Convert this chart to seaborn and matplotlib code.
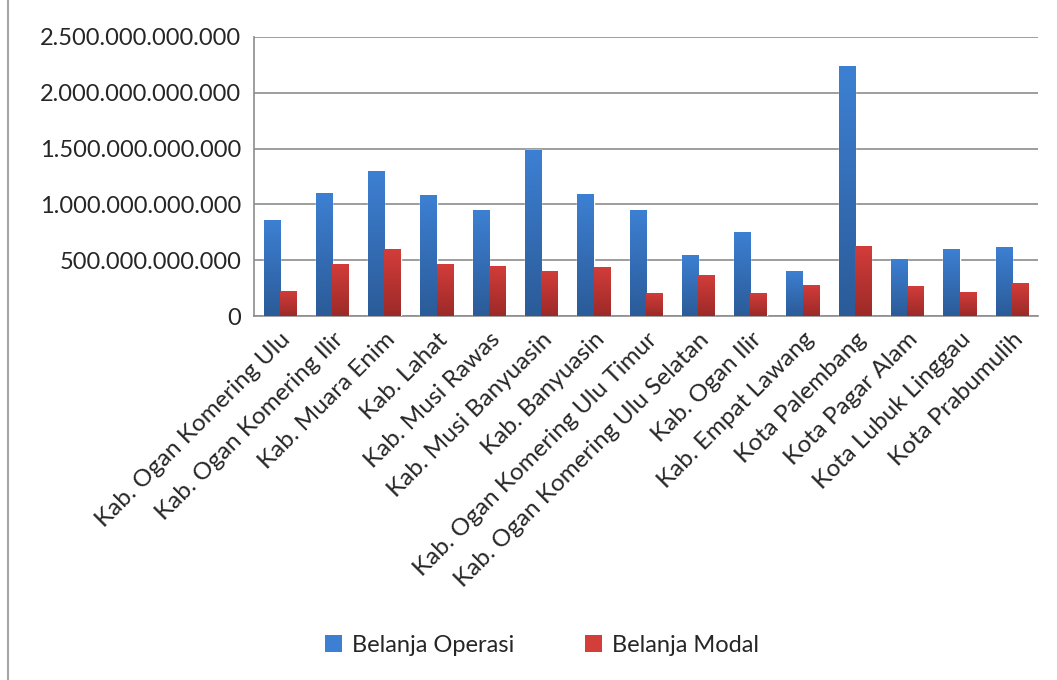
import numpy as np
import pandas as pd
import matplotlib
matplotlib.use("Agg")
import matplotlib.pyplot as plt
import seaborn as sns
from matplotlib.colors import LinearSegmentedColormap
from matplotlib.patches import Rectangle
from matplotlib.lines import Line2D
from matplotlib.ticker import FuncFormatter, FixedLocator

# data (Rupiah, in billions)
regions = [
    "Kab. Ogan Komering Ulu", "Kab. Ogan Komering Ilir", "Kab. Muara Enim",
    "Kab. Lahat", "Kab. Musi Rawas", "Kab. Musi Banyuasin", "Kab. Banyuasin",
    "Kab. Ogan Komering Ulu Timur", "Kab. Ogan Komering Ulu Selatan",
    "Kab. Ogan Ilir", "Kab. Empat Lawang", "Kota Palembang", "Kota Pagar Alam",
    "Kota Lubuk Linggau", "Kota Prabumulih",
]
belanja_operasi = [862, 1104, 1302, 1086, 951, 1490, 1095, 951, 548, 754, 404, 2235, 512, 601, 619]
belanja_modal = [224, 467, 601, 467, 449, 404, 440, 206, 368, 206, 278, 628, 269, 215, 296]
series = ["Belanja Operasi", "Belanja Modal"]

df = pd.DataFrame({
    "Wilayah": regions * 2,
    "Jenis": [series[0]] * len(regions) + [series[1]] * len(regions),
    "Nilai": [v * 1e9 for v in belanja_operasi + belanja_modal],
})

sns.set_theme(style="white")
plt.rcParams["font.family"] = ["Lato", "DejaVu Sans"]

top_colors = {"Belanja Operasi": "#3d80d3", "Belanja Modal": "#d33d3a"}
bot_colors = {"Belanja Operasi": "#2b5b98", "Belanja Modal": "#9c2a28"}
fs = 17

fig = plt.figure(figsize=(10.57, 6.8), dpi=100)
ax = fig.add_axes([0.240, 0.535, 0.742, 0.411])

sns.barplot(data=df, x="Wilayah", y="Nilai", hue="Jenis", hue_order=series,
            palette=top_colors, width=0.62, gap=0, ax=ax, legend=False,
            saturation=1, errorbar=None)

# vertical gradient fill for every bar
for i, name in enumerate(series):
    cmap = LinearSegmentedColormap.from_list(name, [bot_colors[name], top_colors[name]])
    grad = np.linspace(0, 1, 256).reshape(-1, 1)
    for patch in ax.containers[i]:
        x0, y0 = patch.get_x(), patch.get_y()
        w, h = patch.get_width(), patch.get_height()
        im = ax.imshow(grad, cmap=cmap, aspect="auto", origin="lower",
                       extent=[x0, x0 + w, y0, y0 + h], zorder=3)
        im.set_clip_path(patch)
        patch.set_zorder(3)

ax.set_xlim(-0.5, len(regions) - 0.5)
ax.set_ylim(0, 2.5e12)
ax.set_xlabel("")
ax.set_ylabel("")

ax.yaxis.set_major_locator(FixedLocator(np.arange(0, 2.51e12, 5e11)))
ax.yaxis.set_major_formatter(FuncFormatter(lambda v, p: f"{int(round(v)):,}".replace(",", ".")))
ax.grid(axis="y", color="#8c8c8c", linewidth=1.2, zorder=0)
ax.set_axisbelow(True)

for s in ["top", "right"]:
    ax.spines[s].set_visible(False)
for s in ["left", "bottom"]:
    ax.spines[s].set_color("#8c8c8c")
    ax.spines[s].set_linewidth(1.2)

# category labels at centres, tick marks between groups
ax.set_xticks(range(len(regions)))
ax.set_xticklabels(regions, rotation=45, ha="right", rotation_mode="anchor", fontsize=17.5)
ax.tick_params(axis="x", length=0, pad=9)
ax.set_xticks(np.arange(-0.5, len(regions), 1), minor=True)
ax.tick_params(axis="x", which="minor", length=7, color="#8c8c8c", width=1.2, direction="out")
ax.tick_params(axis="y", length=5, color="#8c8c8c", width=1.2, direction="out",
               labelsize=fs, pad=4)

handles = [Rectangle((0, 0), 1, 1, facecolor=top_colors[s], edgecolor="none") for s in series]
fig.legend(handles, series, loc="center", bbox_to_anchor=(0.513, 0.051), ncol=2,
           frameon=False, fontsize=fs, handlelength=0.7, handleheight=0.7,
           columnspacing=3.0, handletextpad=0.45)

# thin frame line on the left edge
fig.lines.append(Line2D([0.008, 0.008], [0, 1], transform=fig.transFigure,
                        color="#a6a6a6", linewidth=1.5))

fig.savefig("out.png", dpi=100)
